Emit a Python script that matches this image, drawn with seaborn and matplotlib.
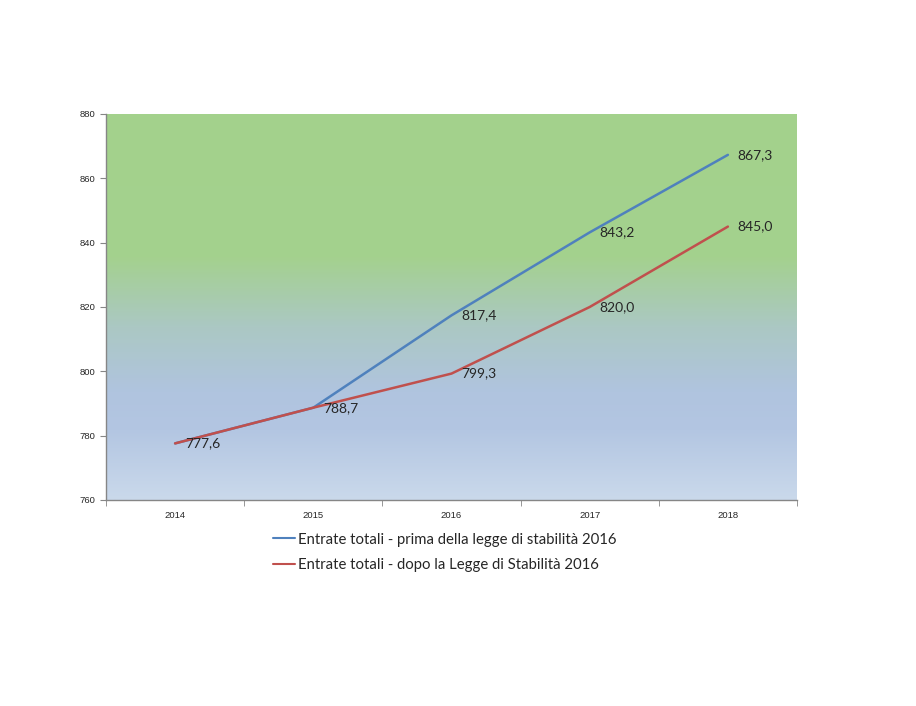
import numpy as np
import pandas as pd
import matplotlib
matplotlib.use("Agg")
from matplotlib import pyplot as plt
from matplotlib.colors import LinearSegmentedColormap
import seaborn as sns

# dati
anni = ["2014", "2015", "2016", "2017", "2018"]
prima = [777.6, 788.7, 817.4, 843.2, 867.3]
dopo = [777.6, 788.7, 799.3, 820.0, 845.0]
nome_prima = "Entrate totali - prima della legge di stabilità 2016"
nome_dopo = "Entrate totali - dopo la Legge di Stabilità 2016"

sns.set_style("white")
plt.rcParams['font.family'] = ['Liberation Sans', 'DejaVu Sans']

df = pd.DataFrame({
    "pos": list(range(len(anni))) * 2,
    "valore": prima + dopo,
    "serie": [nome_prima] * len(anni) + [nome_dopo] * len(anni),
})

fig = plt.figure(figsize=(9.16, 7.06), dpi=100)
ax = fig.add_axes([106 / 916, 1 - 500 / 706, 691 / 916, 386 / 706])

# sfondo sfumato verde -> blu
cmap = LinearSegmentedColormap.from_list(
    "sfondo",
    [(0.0, "#cad9eb"), (0.18, "#b3c6e2"), (0.28, "#b0c4df"),
     (0.45, "#abc8c3"), (0.63, "#a4d18e"), (1.0, "#a3d28c")])
grad = np.linspace(0, 1, 256).reshape(-1, 1)
ax.imshow(grad, aspect="auto", cmap=cmap, origin="lower",
          extent=[-0.5, 4.5, 760, 880], zorder=0)

sns.lineplot(data=df, x="pos", y="valore", hue="serie",
             palette=["#4f81bd", "#c0504d"], linewidth=1.8, ax=ax, zorder=3)

for i in range(len(anni)):
    if i >= 2:
        ax.annotate(f"{prima[i]:.1f}".replace(".", ","), (i, prima[i]),
                    xytext=(7, 0), textcoords="offset points", va="center",
                    fontsize=10, family=["Lato", "DejaVu Sans"], zorder=5)
    ax.annotate(f"{dopo[i]:.1f}".replace(".", ","), (i, dopo[i]),
                xytext=(7, 0), textcoords="offset points", va="center",
                fontsize=10, family=["Lato", "DejaVu Sans"], zorder=5)

ax.set_xlim(-0.5, 4.5)
ax.set_ylim(760, 880)
ax.set_yticks(range(760, 881, 20))
ax.set_xticks(range(len(anni)))
ax.set_xticklabels(anni)
ax.set_xticks(np.arange(-0.5, 4.6, 1), minor=True)
ax.tick_params(axis="x", which="major", length=0, labelsize=6.8, pad=8)
ax.tick_params(axis="x", which="minor", length=4, color="#868686", direction="out", bottom=True)
ax.tick_params(axis="y", length=4, color="#868686", direction="out", labelsize=6.8, left=True)
ax.set_xlabel("")
ax.set_ylabel("")
for s in ["top", "right"]:
    ax.spines[s].set_visible(False)
for s in ["left", "bottom"]:
    ax.spines[s].set_color("#868686")
    ax.spines[s].set_linewidth(1)

leg = ax.legend(loc="upper center", bbox_to_anchor=(0.49, -0.05), frameon=False,
                handlelength=1.5, handletextpad=0.15, labelspacing=0.75,
                prop={"family": ["Lato", "DejaVu Sans"], "size": 10.7})
for h in leg.get_lines():
    h.set_linewidth(1.5)

fig.savefig("out.png", dpi=100)
